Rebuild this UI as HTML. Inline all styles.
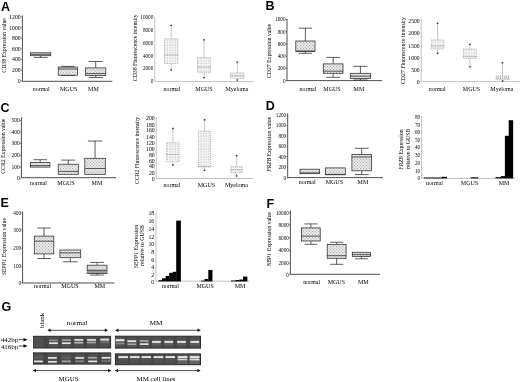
<!DOCTYPE html>
<html><head><meta charset="utf-8"><style>
html,body{margin:0;padding:0;background:#fff;width:520px;height:382px;overflow:hidden}
svg{display:block;filter:grayscale(1) blur(0.3px)}
text{font-family:"Liberation Serif", serif;stroke:none;fill:#000}
</style></head><body>
<svg width="520" height="382" viewBox="0 0 520 382" font-family='"Liberation Serif", serif' fill="#111">
<defs>
<pattern id="dots" x="0" y="0" width="3" height="3" patternUnits="userSpaceOnUse"><rect width="3" height="3" fill="#f0f0f0"/><rect x="0" y="0" width="1.2" height="1.2" fill="#acacac"/><rect x="1.5" y="1.5" width="1.2" height="1.2" fill="#b4b4b4"/></pattern>
<pattern id="dots2" x="0" y="0" width="2.6" height="2.6" patternUnits="userSpaceOnUse"><rect width="2.6" height="2.6" fill="#f8f8f8"/><rect x="0.4" y="0.4" width="1.1" height="1.1" fill="#b4b4b4"/></pattern>
<filter id="bl" x="-20%" y="-50%" width="140%" height="200%"><feGaussianBlur stdDeviation="0.5"/></filter><filter id="bl2" x="-10%" y="-10%" width="120%" height="120%"><feGaussianBlur stdDeviation="0.7"/></filter>
</defs>
<rect width="520" height="382" fill="#fff"/>
<text x="0.9" y="10.8" style='font-family:"Liberation Sans",sans-serif' font-weight="bold" font-size="12.5">A</text>
<line x1="22.4" y1="15.5" x2="22.4" y2="81.3" stroke="#222" stroke-width="0.8"/>
<line x1="22.4" y1="81.3" x2="112.4" y2="81.3" stroke="#222" stroke-width="0.8"/>
<line x1="21.2" y1="17.0" x2="22.4" y2="17.0" stroke="#222" stroke-width="0.6"/>
<text x="20.7" y="18.8" font-size="5.8" text-anchor="end" >1200</text>
<line x1="21.2" y1="27.7" x2="22.4" y2="27.7" stroke="#222" stroke-width="0.6"/>
<text x="20.7" y="29.5" font-size="5.8" text-anchor="end" >1000</text>
<line x1="21.2" y1="38.2" x2="22.4" y2="38.2" stroke="#222" stroke-width="0.6"/>
<text x="20.7" y="40.0" font-size="5.8" text-anchor="end" >800</text>
<line x1="21.2" y1="49.0" x2="22.4" y2="49.0" stroke="#222" stroke-width="0.6"/>
<text x="20.7" y="50.8" font-size="5.8" text-anchor="end" >600</text>
<line x1="21.2" y1="59.5" x2="22.4" y2="59.5" stroke="#222" stroke-width="0.6"/>
<text x="20.7" y="61.3" font-size="5.8" text-anchor="end" >400</text>
<line x1="21.2" y1="70.3" x2="22.4" y2="70.3" stroke="#222" stroke-width="0.6"/>
<text x="20.7" y="72.1" font-size="5.8" text-anchor="end" >200</text>
<line x1="21.2" y1="81.0" x2="22.4" y2="81.0" stroke="#222" stroke-width="0.6"/>
<text x="20.7" y="82.8" font-size="5.8" text-anchor="end" >0</text>
<line x1="40.650000000000006" y1="55.7" x2="40.650000000000006" y2="57.4" stroke="#2a2a2a" stroke-width="0.75"/>
<line x1="33.61500000000001" y1="57.4" x2="47.685" y2="57.4" stroke="#2a2a2a" stroke-width="0.75"/>
<rect x="30.6" y="52.8" width="20.1" height="2.9000000000000057" fill="url(#dots)" stroke="#2a2a2a" stroke-width="0.75"/>
<line x1="30.6" y1="54.3" x2="50.7" y2="54.3" stroke="#2a2a2a" stroke-width="0.75"/>
<line x1="67.85" y1="66.4" x2="67.85" y2="67.1" stroke="#2a2a2a" stroke-width="0.75"/>
<line x1="61.095" y1="66.4" x2="74.60499999999999" y2="66.4" stroke="#2a2a2a" stroke-width="0.75"/>
<line x1="67.85" y1="75.2" x2="67.85" y2="75.6" stroke="#2a2a2a" stroke-width="0.75"/>
<line x1="61.095" y1="75.6" x2="74.60499999999999" y2="75.6" stroke="#2a2a2a" stroke-width="0.75"/>
<rect x="58.2" y="67.1" width="19.299999999999997" height="8.100000000000009" fill="url(#dots)" stroke="#2a2a2a" stroke-width="0.75"/>
<line x1="58.2" y1="69.0" x2="77.5" y2="69.0" stroke="#2a2a2a" stroke-width="0.75"/>
<line x1="95.69999999999999" y1="61.5" x2="95.69999999999999" y2="67.9" stroke="#2a2a2a" stroke-width="0.75"/>
<line x1="88.63" y1="61.5" x2="102.76999999999998" y2="61.5" stroke="#2a2a2a" stroke-width="0.75"/>
<line x1="95.69999999999999" y1="75.4" x2="95.69999999999999" y2="77.5" stroke="#2a2a2a" stroke-width="0.75"/>
<line x1="88.63" y1="77.5" x2="102.76999999999998" y2="77.5" stroke="#2a2a2a" stroke-width="0.75"/>
<rect x="85.6" y="67.9" width="20.200000000000003" height="7.5" fill="url(#dots)" stroke="#2a2a2a" stroke-width="0.75"/>
<line x1="85.6" y1="73.6" x2="105.8" y2="73.6" stroke="#2a2a2a" stroke-width="0.75"/>
<text x="41.2" y="90.9" font-size="6" text-anchor="middle" >normal</text>
<text x="68.7" y="90.9" font-size="6" text-anchor="middle" >MGUS</text>
<text x="93.4" y="90.9" font-size="6" text-anchor="middle" >MM</text>
<text transform="translate(4.0,45.4) rotate(-90)" x="0" y="0" font-size="5.8" text-anchor="middle" dominant-baseline="central" textLength="54.5" lengthAdjust="spacingAndGlyphs" >CD38 Expression value</text>
<line x1="154.8" y1="16.2" x2="154.8" y2="81.6" stroke="#a8a8a8" stroke-width="0.7"/>
<line x1="154.8" y1="81.6" x2="254" y2="81.6" stroke="#a8a8a8" stroke-width="0.7"/>
<text x="153.3" y="19.1" font-size="5.2" text-anchor="end" >10000</text>
<text x="153.3" y="32.1" font-size="5.2" text-anchor="end" >8000</text>
<text x="153.3" y="44.8" font-size="5.2" text-anchor="end" >6000</text>
<text x="153.3" y="57.5" font-size="5.2" text-anchor="end" >4000</text>
<text x="153.3" y="70.3" font-size="5.2" text-anchor="end" >2000</text>
<text x="153.3" y="83.1" font-size="5.2" text-anchor="end" >0</text>
<line x1="171.2" y1="25.4" x2="171.2" y2="38.7" stroke="#a0a0a0" stroke-width="0.6"/>
<rect x="170.39999999999998" y="24.7" width="1.6" height="1.4" fill="#333"/>
<line x1="171.2" y1="63.6" x2="171.2" y2="70.0" stroke="#a0a0a0" stroke-width="0.6"/>
<rect x="170.39999999999998" y="69.3" width="1.6" height="1.4" fill="#333"/>
<rect x="164.5" y="38.7" width="13.400000000000006" height="24.9" fill="url(#dots2)" stroke="#999" stroke-width="0.7" stroke-dasharray="1,1"/>
<line x1="164.5" y1="55.0" x2="177.9" y2="55.0" stroke="#777" stroke-width="0.8" stroke-dasharray="1,1"/>
<line x1="204.05" y1="39.8" x2="204.05" y2="57.5" stroke="#a0a0a0" stroke-width="0.6"/>
<rect x="203.25" y="39.099999999999994" width="1.6" height="1.4" fill="#333"/>
<line x1="204.05" y1="72.7" x2="204.05" y2="77.7" stroke="#a0a0a0" stroke-width="0.6"/>
<rect x="203.25" y="77.0" width="1.6" height="1.4" fill="#333"/>
<rect x="197.5" y="57.5" width="13.099999999999994" height="15.200000000000003" fill="url(#dots2)" stroke="#999" stroke-width="0.7" stroke-dasharray="1,1"/>
<line x1="197.5" y1="67.2" x2="210.6" y2="67.2" stroke="#777" stroke-width="0.8" stroke-dasharray="1,1"/>
<line x1="237.3" y1="62.0" x2="237.3" y2="72.8" stroke="#a0a0a0" stroke-width="0.6"/>
<rect x="236.5" y="61.3" width="1.6" height="1.4" fill="#333"/>
<line x1="237.3" y1="78.4" x2="237.3" y2="80.1" stroke="#a0a0a0" stroke-width="0.6"/>
<rect x="236.5" y="79.39999999999999" width="1.6" height="1.4" fill="#333"/>
<rect x="230.5" y="72.8" width="13.599999999999994" height="5.6000000000000085" fill="url(#dots2)" stroke="#999" stroke-width="0.7" stroke-dasharray="1,1"/>
<line x1="230.5" y1="75.8" x2="244.1" y2="75.8" stroke="#777" stroke-width="0.8" stroke-dasharray="1,1"/>
<text x="171.9" y="90.6" font-size="6" text-anchor="middle" >normal</text>
<text x="204" y="90.6" font-size="6" text-anchor="middle" >MGUS</text>
<text x="236.9" y="90.6" font-size="6" text-anchor="middle" >Myeloma</text>
<text transform="translate(134.9,47.8) rotate(-90)" x="0" y="0" font-size="5.8" text-anchor="middle" dominant-baseline="central" textLength="66.7" lengthAdjust="spacingAndGlyphs" >CD38 Fluorescence intensity</text>
<text x="265.4" y="10.3" style='font-family:"Liberation Sans",sans-serif' font-weight="bold" font-size="12.5">B</text>
<line x1="287" y1="18.8" x2="287" y2="80.6" stroke="#222" stroke-width="0.8"/>
<line x1="287" y1="80.6" x2="382" y2="80.6" stroke="#222" stroke-width="0.8"/>
<line x1="285.8" y1="19.6" x2="287" y2="19.6" stroke="#222" stroke-width="0.6"/>
<text x="285.5" y="21.400000000000002" font-size="5.2" text-anchor="end" >1000</text>
<line x1="285.8" y1="31.8" x2="287" y2="31.8" stroke="#222" stroke-width="0.6"/>
<text x="285.5" y="33.6" font-size="5.2" text-anchor="end" >800</text>
<line x1="285.8" y1="44.0" x2="287" y2="44.0" stroke="#222" stroke-width="0.6"/>
<text x="285.5" y="45.8" font-size="5.2" text-anchor="end" >600</text>
<line x1="285.8" y1="56.2" x2="287" y2="56.2" stroke="#222" stroke-width="0.6"/>
<text x="285.5" y="58.0" font-size="5.2" text-anchor="end" >400</text>
<line x1="285.8" y1="68.5" x2="287" y2="68.5" stroke="#222" stroke-width="0.6"/>
<text x="285.5" y="70.3" font-size="5.2" text-anchor="end" >200</text>
<line x1="285.8" y1="80.7" x2="287" y2="80.7" stroke="#222" stroke-width="0.6"/>
<text x="285.5" y="82.5" font-size="5.2" text-anchor="end" >0</text>
<line x1="305.4" y1="28.2" x2="305.4" y2="41.0" stroke="#2a2a2a" stroke-width="0.75"/>
<line x1="298.68" y1="28.2" x2="312.11999999999995" y2="28.2" stroke="#2a2a2a" stroke-width="0.75"/>
<line x1="305.4" y1="51.6" x2="305.4" y2="53.3" stroke="#2a2a2a" stroke-width="0.75"/>
<line x1="298.68" y1="53.3" x2="312.11999999999995" y2="53.3" stroke="#2a2a2a" stroke-width="0.75"/>
<rect x="295.8" y="41.0" width="19.19999999999999" height="10.600000000000001" fill="url(#dots)" stroke="#2a2a2a" stroke-width="0.75"/>
<line x1="295.8" y1="51.0" x2="315.0" y2="51.0" stroke="#2a2a2a" stroke-width="0.75"/>
<line x1="333.15" y1="57.4" x2="333.15" y2="63.9" stroke="#2a2a2a" stroke-width="0.75"/>
<line x1="326.255" y1="57.4" x2="340.04499999999996" y2="57.4" stroke="#2a2a2a" stroke-width="0.75"/>
<line x1="333.15" y1="73.3" x2="333.15" y2="77.3" stroke="#2a2a2a" stroke-width="0.75"/>
<line x1="326.255" y1="77.3" x2="340.04499999999996" y2="77.3" stroke="#2a2a2a" stroke-width="0.75"/>
<rect x="323.3" y="63.9" width="19.69999999999999" height="9.399999999999999" fill="url(#dots)" stroke="#2a2a2a" stroke-width="0.75"/>
<line x1="323.3" y1="71.2" x2="343.0" y2="71.2" stroke="#2a2a2a" stroke-width="0.75"/>
<line x1="360.4" y1="66.3" x2="360.4" y2="73.3" stroke="#2a2a2a" stroke-width="0.75"/>
<line x1="353.33" y1="66.3" x2="367.46999999999997" y2="66.3" stroke="#2a2a2a" stroke-width="0.75"/>
<line x1="360.4" y1="78.6" x2="360.4" y2="80.0" stroke="#2a2a2a" stroke-width="0.75"/>
<line x1="353.33" y1="80.0" x2="367.46999999999997" y2="80.0" stroke="#2a2a2a" stroke-width="0.75"/>
<rect x="350.3" y="73.3" width="20.19999999999999" height="5.299999999999997" fill="url(#dots)" stroke="#2a2a2a" stroke-width="0.75"/>
<line x1="350.3" y1="76.2" x2="370.5" y2="76.2" stroke="#2a2a2a" stroke-width="0.75"/>
<text x="307.9" y="90.5" font-size="6" text-anchor="middle" >normal</text>
<text x="332" y="90.5" font-size="6" text-anchor="middle" >MGUS</text>
<text x="358.9" y="90.5" font-size="6" text-anchor="middle" >MM</text>
<text transform="translate(268.8,50.9) rotate(-90)" x="0" y="0" font-size="5.8" text-anchor="middle" dominant-baseline="central" textLength="54.3" lengthAdjust="spacingAndGlyphs" >CD27 Expression value</text>
<line x1="421.2" y1="18.3" x2="421.2" y2="81.6" stroke="#a8a8a8" stroke-width="0.7"/>
<line x1="421.2" y1="81.6" x2="520" y2="81.6" stroke="#a8a8a8" stroke-width="0.7"/>
<text x="419.7" y="23.2" font-size="5.7" text-anchor="end" >2500</text>
<text x="419.7" y="35.3" font-size="5.7" text-anchor="end" >2000</text>
<text x="419.7" y="47.599999999999994" font-size="5.7" text-anchor="end" >1500</text>
<text x="419.7" y="59.8" font-size="5.7" text-anchor="end" >1000</text>
<text x="419.7" y="71.8" font-size="5.7" text-anchor="end" >500</text>
<text x="419.7" y="83.7" font-size="5.7" text-anchor="end" >0</text>
<line x1="437.54999999999995" y1="23.4" x2="437.54999999999995" y2="39.9" stroke="#a0a0a0" stroke-width="0.6"/>
<rect x="436.74999999999994" y="22.7" width="1.6" height="1.4" fill="#333"/>
<line x1="437.54999999999995" y1="49.0" x2="437.54999999999995" y2="53.4" stroke="#a0a0a0" stroke-width="0.6"/>
<rect x="436.74999999999994" y="52.699999999999996" width="1.6" height="1.4" fill="#333"/>
<rect x="431.2" y="39.9" width="12.699999999999989" height="9.100000000000001" fill="url(#dots2)" stroke="#999" stroke-width="0.7" stroke-dasharray="1,1"/>
<line x1="431.2" y1="46.0" x2="443.9" y2="46.0" stroke="#777" stroke-width="0.8" stroke-dasharray="1,1"/>
<line x1="469.9" y1="44.4" x2="469.9" y2="49.0" stroke="#a0a0a0" stroke-width="0.6"/>
<rect x="469.09999999999997" y="43.699999999999996" width="1.6" height="1.4" fill="#333"/>
<line x1="469.9" y1="58.4" x2="469.9" y2="66.8" stroke="#a0a0a0" stroke-width="0.6"/>
<rect x="469.09999999999997" y="66.1" width="1.6" height="1.4" fill="#333"/>
<rect x="463.4" y="49.0" width="13.0" height="9.399999999999999" fill="url(#dots2)" stroke="#999" stroke-width="0.7" stroke-dasharray="1,1"/>
<line x1="463.4" y1="56.5" x2="476.4" y2="56.5" stroke="#777" stroke-width="0.8" stroke-dasharray="1,1"/>
<line x1="502.5" y1="62.8" x2="502.5" y2="75.9" stroke="#a0a0a0" stroke-width="0.6"/>
<rect x="501.7" y="62.099999999999994" width="1.6" height="1.4" fill="#333"/>
<line x1="502.5" y1="79.8" x2="502.5" y2="81.0" stroke="#a0a0a0" stroke-width="0.6"/>
<rect x="501.7" y="80.3" width="1.6" height="1.4" fill="#333"/>
<rect x="496" y="75.9" width="13" height="3.8999999999999915" fill="url(#dots2)" stroke="#999" stroke-width="0.7" stroke-dasharray="1,1"/>
<line x1="496" y1="78" x2="509" y2="78" stroke="#777" stroke-width="0.8" stroke-dasharray="1,1"/>
<text x="437.2" y="90.5" font-size="6" text-anchor="middle" >normal</text>
<text x="471.5" y="90.5" font-size="6" text-anchor="middle" >MGUS</text>
<text x="501.8" y="90.5" font-size="6" text-anchor="middle" >Myeloma</text>
<text transform="translate(402.5,50.6) rotate(-90)" x="0" y="0" font-size="5.8" text-anchor="middle" dominant-baseline="central" textLength="66.8" lengthAdjust="spacingAndGlyphs" >CD27 Fluorescence intensity</text>
<text x="0.5" y="112.2" style='font-family:"Liberation Sans",sans-serif' font-weight="bold" font-size="12.5">C</text>
<line x1="21.4" y1="117.3" x2="21.4" y2="177.7" stroke="#222" stroke-width="0.8"/>
<line x1="21.4" y1="177.7" x2="116" y2="177.7" stroke="#222" stroke-width="0.8"/>
<line x1="20.2" y1="120.5" x2="21.4" y2="120.5" stroke="#222" stroke-width="0.6"/>
<text x="19.9" y="122.3" font-size="5.6" text-anchor="end" >500</text>
<line x1="20.2" y1="132.1" x2="21.4" y2="132.1" stroke="#222" stroke-width="0.6"/>
<text x="19.9" y="133.9" font-size="5.6" text-anchor="end" >400</text>
<line x1="20.2" y1="143.6" x2="21.4" y2="143.6" stroke="#222" stroke-width="0.6"/>
<text x="19.9" y="145.4" font-size="5.6" text-anchor="end" >300</text>
<line x1="20.2" y1="155.6" x2="21.4" y2="155.6" stroke="#222" stroke-width="0.6"/>
<text x="19.9" y="157.4" font-size="5.6" text-anchor="end" >200</text>
<line x1="20.2" y1="167.3" x2="21.4" y2="167.3" stroke="#222" stroke-width="0.6"/>
<text x="19.9" y="169.10000000000002" font-size="5.6" text-anchor="end" >100</text>
<line x1="20.2" y1="178.6" x2="21.4" y2="178.6" stroke="#222" stroke-width="0.6"/>
<text x="19.9" y="180.4" font-size="5.6" text-anchor="end" >0</text>
<line x1="40.15" y1="159.7" x2="40.15" y2="162.4" stroke="#2a2a2a" stroke-width="0.75"/>
<line x1="33.325" y1="159.7" x2="46.974999999999994" y2="159.7" stroke="#2a2a2a" stroke-width="0.75"/>
<rect x="30.4" y="162.4" width="19.5" height="4.699999999999989" fill="url(#dots)" stroke="#2a2a2a" stroke-width="0.75"/>
<line x1="30.4" y1="165.6" x2="49.9" y2="165.6" stroke="#2a2a2a" stroke-width="0.75"/>
<line x1="68.25" y1="160.1" x2="68.25" y2="164.2" stroke="#2a2a2a" stroke-width="0.75"/>
<line x1="61.215" y1="160.1" x2="75.285" y2="160.1" stroke="#2a2a2a" stroke-width="0.75"/>
<rect x="58.2" y="164.2" width="20.099999999999994" height="10.100000000000023" fill="url(#dots)" stroke="#2a2a2a" stroke-width="0.75"/>
<line x1="58.2" y1="171.4" x2="78.3" y2="171.4" stroke="#2a2a2a" stroke-width="0.75"/>
<line x1="95.05" y1="141.0" x2="95.05" y2="158.3" stroke="#2a2a2a" stroke-width="0.75"/>
<line x1="87.875" y1="141.0" x2="102.225" y2="141.0" stroke="#2a2a2a" stroke-width="0.75"/>
<rect x="84.8" y="158.3" width="20.5" height="16.0" fill="url(#dots)" stroke="#2a2a2a" stroke-width="0.75"/>
<line x1="84.8" y1="168.5" x2="105.3" y2="168.5" stroke="#2a2a2a" stroke-width="0.75"/>
<text x="38.5" y="185.3" font-size="6" text-anchor="middle" >normal</text>
<text x="66" y="185.3" font-size="6" text-anchor="middle" >MGUS</text>
<text x="96.9" y="185.3" font-size="6" text-anchor="middle" >MM</text>
<text transform="translate(3.3,146.2) rotate(-90)" x="0" y="0" font-size="5.8" text-anchor="middle" dominant-baseline="central" textLength="55.1" lengthAdjust="spacingAndGlyphs" >CCR2 Expression value</text>
<line x1="156.2" y1="117.2" x2="156.2" y2="178.5" stroke="#a8a8a8" stroke-width="0.7"/>
<line x1="156.2" y1="178.5" x2="253" y2="178.5" stroke="#a8a8a8" stroke-width="0.7"/>
<text x="154.7" y="119.8" font-size="5.8" text-anchor="end" >200</text>
<text x="154.7" y="126.5" font-size="5.8" text-anchor="end" >180</text>
<text x="154.7" y="132.4" font-size="5.8" text-anchor="end" >160</text>
<text x="154.7" y="138.70000000000002" font-size="5.8" text-anchor="end" >140</text>
<text x="154.7" y="144.70000000000002" font-size="5.8" text-anchor="end" >120</text>
<text x="154.7" y="150.60000000000002" font-size="5.8" text-anchor="end" >100</text>
<text x="154.7" y="156.5" font-size="5.8" text-anchor="end" >80</text>
<text x="154.7" y="162.60000000000002" font-size="5.8" text-anchor="end" >60</text>
<text x="154.7" y="168.4" font-size="5.8" text-anchor="end" >40</text>
<text x="154.7" y="174.70000000000002" font-size="5.8" text-anchor="end" >20</text>
<text x="154.7" y="181.0" font-size="5.8" text-anchor="end" >0</text>
<line x1="172.89999999999998" y1="128.5" x2="172.89999999999998" y2="142.6" stroke="#a0a0a0" stroke-width="0.6"/>
<rect x="172.09999999999997" y="127.8" width="1.6" height="1.4" fill="#333"/>
<line x1="172.89999999999998" y1="161.7" x2="172.89999999999998" y2="165.1" stroke="#a0a0a0" stroke-width="0.6"/>
<rect x="172.09999999999997" y="164.4" width="1.6" height="1.4" fill="#333"/>
<rect x="166.6" y="142.6" width="12.599999999999994" height="19.099999999999994" fill="url(#dots2)" stroke="#999" stroke-width="0.7" stroke-dasharray="1,1"/>
<line x1="166.6" y1="154.6" x2="179.2" y2="154.6" stroke="#777" stroke-width="0.8" stroke-dasharray="1,1"/>
<line x1="204.55" y1="119.8" x2="204.55" y2="131.1" stroke="#a0a0a0" stroke-width="0.6"/>
<rect x="203.75" y="119.1" width="1.6" height="1.4" fill="#333"/>
<line x1="204.55" y1="167.0" x2="204.55" y2="170.3" stroke="#a0a0a0" stroke-width="0.6"/>
<rect x="203.75" y="169.60000000000002" width="1.6" height="1.4" fill="#333"/>
<rect x="198.5" y="131.1" width="12.099999999999994" height="35.900000000000006" fill="url(#dots2)" stroke="#999" stroke-width="0.7" stroke-dasharray="1,1"/>
<line x1="198.5" y1="166.5" x2="210.6" y2="166.5" stroke="#777" stroke-width="0.8" stroke-dasharray="1,1"/>
<line x1="236.65" y1="155.7" x2="236.65" y2="166.6" stroke="#a0a0a0" stroke-width="0.6"/>
<rect x="235.85" y="155.0" width="1.6" height="1.4" fill="#333"/>
<line x1="236.65" y1="172.5" x2="236.65" y2="176.0" stroke="#a0a0a0" stroke-width="0.6"/>
<rect x="235.85" y="175.3" width="1.6" height="1.4" fill="#333"/>
<rect x="230.9" y="166.6" width="11.5" height="5.900000000000006" fill="url(#dots2)" stroke="#999" stroke-width="0.7" stroke-dasharray="1,1"/>
<line x1="230.9" y1="169.7" x2="242.4" y2="169.7" stroke="#777" stroke-width="0.8" stroke-dasharray="1,1"/>
<text x="171.9" y="186.8" font-size="6" text-anchor="middle" >normal</text>
<text x="206.4" y="186.8" font-size="6" text-anchor="middle" >MGUS</text>
<text x="236.4" y="186.8" font-size="6" text-anchor="middle" >Myeloma</text>
<text transform="translate(137.2,150.4) rotate(-90)" x="0" y="0" font-size="5.8" text-anchor="middle" dominant-baseline="central" textLength="67" lengthAdjust="spacingAndGlyphs" >CCR2 Fluorescence intensity</text>
<text x="265.7" y="110" style='font-family:"Liberation Sans",sans-serif' font-weight="bold" font-size="12.5">D</text>
<line x1="287.7" y1="113.3" x2="287.7" y2="177.6" stroke="#222" stroke-width="0.8"/>
<line x1="287.7" y1="177.6" x2="383" y2="177.6" stroke="#222" stroke-width="0.8"/>
<line x1="286.5" y1="115.1" x2="287.7" y2="115.1" stroke="#222" stroke-width="0.6"/>
<text x="286.2" y="116.89999999999999" font-size="5.2" text-anchor="end" >1200</text>
<line x1="286.5" y1="125.6" x2="287.7" y2="125.6" stroke="#222" stroke-width="0.6"/>
<text x="286.2" y="127.39999999999999" font-size="5.2" text-anchor="end" >1000</text>
<line x1="286.5" y1="136.0" x2="287.7" y2="136.0" stroke="#222" stroke-width="0.6"/>
<text x="286.2" y="137.8" font-size="5.2" text-anchor="end" >800</text>
<line x1="286.5" y1="146.3" x2="287.7" y2="146.3" stroke="#222" stroke-width="0.6"/>
<text x="286.2" y="148.10000000000002" font-size="5.2" text-anchor="end" >600</text>
<line x1="286.5" y1="156.7" x2="287.7" y2="156.7" stroke="#222" stroke-width="0.6"/>
<text x="286.2" y="158.5" font-size="5.2" text-anchor="end" >400</text>
<line x1="286.5" y1="166.9" x2="287.7" y2="166.9" stroke="#222" stroke-width="0.6"/>
<text x="286.2" y="168.70000000000002" font-size="5.2" text-anchor="end" >200</text>
<line x1="286.5" y1="178.2" x2="287.7" y2="178.2" stroke="#222" stroke-width="0.6"/>
<text x="286.2" y="180.0" font-size="5.2" text-anchor="end" >0</text>
<rect x="300" y="169.2" width="19.600000000000023" height="4.5" fill="url(#dots)" stroke="#2a2a2a" stroke-width="0.75"/>
<line x1="300" y1="172.9" x2="319.6" y2="172.9" stroke="#2a2a2a" stroke-width="0.75"/>
<rect x="325.6" y="167.9" width="19.69999999999999" height="6.900000000000006" fill="url(#dots)" stroke="#2a2a2a" stroke-width="0.75"/>
<line x1="325.6" y1="174.4" x2="345.3" y2="174.4" stroke="#2a2a2a" stroke-width="0.75"/>
<line x1="361.7" y1="148.3" x2="361.7" y2="154.4" stroke="#2a2a2a" stroke-width="0.75"/>
<line x1="354.84" y1="148.3" x2="368.56" y2="148.3" stroke="#2a2a2a" stroke-width="0.75"/>
<line x1="361.7" y1="170.8" x2="361.7" y2="174.6" stroke="#2a2a2a" stroke-width="0.75"/>
<line x1="354.84" y1="174.6" x2="368.56" y2="174.6" stroke="#2a2a2a" stroke-width="0.75"/>
<rect x="351.9" y="154.4" width="19.600000000000023" height="16.400000000000006" fill="url(#dots)" stroke="#2a2a2a" stroke-width="0.75"/>
<line x1="351.9" y1="157.0" x2="371.5" y2="157.0" stroke="#2a2a2a" stroke-width="0.75"/>
<text x="307.2" y="183.9" font-size="6" text-anchor="middle" >normal</text>
<text x="334.3" y="183.9" font-size="6" text-anchor="middle" >MGUS</text>
<text x="362.9" y="183.9" font-size="6" text-anchor="middle" >MM</text>
<text transform="translate(268.6,144.3) rotate(-90)" x="0" y="0" font-size="5.8" text-anchor="middle" dominant-baseline="central" textLength="55" lengthAdjust="spacingAndGlyphs" ><tspan font-style="italic">FRZB</tspan> Expression value</text>
<line x1="421.6" y1="116" x2="421.6" y2="178.4" stroke="#a8a8a8" stroke-width="0.7"/>
<line x1="421.6" y1="178.4" x2="515" y2="178.4" stroke="#a8a8a8" stroke-width="0.7"/>
<text x="420.1" y="119.0" font-size="5.2" text-anchor="end" >80</text>
<text x="420.1" y="126.8" font-size="5.2" text-anchor="end" >70</text>
<text x="420.1" y="134.20000000000002" font-size="5.2" text-anchor="end" >60</text>
<text x="420.1" y="141.8" font-size="5.2" text-anchor="end" >50</text>
<text x="420.1" y="149.10000000000002" font-size="5.2" text-anchor="end" >40</text>
<text x="420.1" y="157.0" font-size="5.2" text-anchor="end" >30</text>
<text x="420.1" y="164.8" font-size="5.2" text-anchor="end" >20</text>
<text x="420.1" y="172.70000000000002" font-size="5.2" text-anchor="end" >10</text>
<text x="420.1" y="180.0" font-size="5.2" text-anchor="end" >0</text>
<rect x="423.8" y="177.5" width="18.449999999999967" height="0.9000000000000057" fill="#000"/>
<rect x="441.9" y="176.8" width="5.150000000000011" height="1.5999999999999943" fill="#000"/>
<rect x="470.7" y="177.3" width="7.549999999999988" height="1.0999999999999943" fill="#000"/>
<rect x="495.5" y="177.2" width="5.650000000000011" height="1.200000000000017" fill="#000"/>
<rect x="500.8" y="176.1" width="4.4499999999999655" height="2.3000000000000114" fill="#000"/>
<rect x="504.9" y="135.8" width="4.150000000000011" height="42.599999999999994" fill="#000"/>
<rect x="508.7" y="120.2" width="4.4499999999999655" height="58.2" fill="#000"/>
<text x="434.5" y="185.3" font-size="6" text-anchor="middle" >normal</text>
<text x="469.5" y="185.3" font-size="6" text-anchor="middle" >MGUS</text>
<text x="504.1" y="185.3" font-size="6" text-anchor="middle" >MM</text>
<text transform="translate(401.3,149.6) rotate(-90)" x="0" y="0" font-size="5.8" text-anchor="middle" dominant-baseline="central" textLength="40.4" lengthAdjust="spacingAndGlyphs" ><tspan font-style="italic">FRZB</tspan> Expression</text>
<text transform="translate(407.6,148.9) rotate(-90)" x="0" y="0" font-size="5.8" text-anchor="middle" dominant-baseline="central" textLength="40.3" lengthAdjust="spacingAndGlyphs" >relative to GUSB</text>
<text x="0.5" y="207.4" style='font-family:"Liberation Sans",sans-serif' font-weight="bold" font-size="12.5">E</text>
<line x1="22.6" y1="211.5" x2="22.6" y2="283.0" stroke="#222" stroke-width="0.8"/>
<line x1="22.6" y1="283.0" x2="114.5" y2="283.0" stroke="#222" stroke-width="0.8"/>
<line x1="21.400000000000002" y1="212.8" x2="22.6" y2="212.8" stroke="#222" stroke-width="0.6"/>
<text x="21.1" y="214.60000000000002" font-size="5.2" text-anchor="end" >400</text>
<line x1="21.400000000000002" y1="229.9" x2="22.6" y2="229.9" stroke="#222" stroke-width="0.6"/>
<text x="21.1" y="231.70000000000002" font-size="5.2" text-anchor="end" >300</text>
<line x1="21.400000000000002" y1="248.3" x2="22.6" y2="248.3" stroke="#222" stroke-width="0.6"/>
<text x="21.1" y="250.10000000000002" font-size="5.2" text-anchor="end" >200</text>
<line x1="21.400000000000002" y1="266.6" x2="22.6" y2="266.6" stroke="#222" stroke-width="0.6"/>
<text x="21.1" y="268.40000000000003" font-size="5.2" text-anchor="end" >100</text>
<line x1="21.400000000000002" y1="282.8" x2="22.6" y2="282.8" stroke="#222" stroke-width="0.6"/>
<text x="21.1" y="284.6" font-size="5.2" text-anchor="end" >0</text>
<line x1="44.05" y1="228.0" x2="44.05" y2="236.1" stroke="#2a2a2a" stroke-width="0.75"/>
<line x1="37.224999999999994" y1="228.0" x2="50.875" y2="228.0" stroke="#2a2a2a" stroke-width="0.75"/>
<line x1="44.05" y1="253.9" x2="44.05" y2="258.5" stroke="#2a2a2a" stroke-width="0.75"/>
<line x1="37.224999999999994" y1="258.5" x2="50.875" y2="258.5" stroke="#2a2a2a" stroke-width="0.75"/>
<rect x="34.3" y="236.1" width="19.5" height="17.80000000000001" fill="url(#dots)" stroke="#2a2a2a" stroke-width="0.75"/>
<line x1="34.3" y1="241.2" x2="53.8" y2="241.2" stroke="#2a2a2a" stroke-width="0.75"/>
<line x1="70.3" y1="257.7" x2="70.3" y2="261.8" stroke="#2a2a2a" stroke-width="0.75"/>
<line x1="63.019999999999996" y1="261.8" x2="77.58" y2="261.8" stroke="#2a2a2a" stroke-width="0.75"/>
<rect x="59.9" y="250.0" width="20.800000000000004" height="7.699999999999989" fill="url(#dots)" stroke="#2a2a2a" stroke-width="0.75"/>
<line x1="59.9" y1="252.9" x2="80.7" y2="252.9" stroke="#2a2a2a" stroke-width="0.75"/>
<line x1="97.1" y1="262.4" x2="97.1" y2="265.2" stroke="#2a2a2a" stroke-width="0.75"/>
<line x1="90.17" y1="262.4" x2="104.02999999999999" y2="262.4" stroke="#2a2a2a" stroke-width="0.75"/>
<line x1="97.1" y1="273.4" x2="97.1" y2="275.0" stroke="#2a2a2a" stroke-width="0.75"/>
<line x1="90.17" y1="275.0" x2="104.02999999999999" y2="275.0" stroke="#2a2a2a" stroke-width="0.75"/>
<rect x="87.2" y="265.2" width="19.799999999999997" height="8.199999999999989" fill="url(#dots)" stroke="#2a2a2a" stroke-width="0.75"/>
<rect x="87.60000000000001" y="270.2" width="18.999999999999996" height="2.7999999999999887" fill="#9a9a9a"/>
<line x1="87.2" y1="270.2" x2="107.0" y2="270.2" stroke="#2a2a2a" stroke-width="0.75"/>
<text x="42.6" y="288.0" font-size="6" text-anchor="middle" >normal</text>
<text x="69.9" y="288.0" font-size="6" text-anchor="middle" >MGUS</text>
<text x="99.8" y="288.0" font-size="6" text-anchor="middle" >MM</text>
<text transform="translate(3.8,246.5) rotate(-90)" x="0" y="0" font-size="5.8" text-anchor="middle" dominant-baseline="central" textLength="57" lengthAdjust="spacingAndGlyphs" ><tspan font-style="italic">SEPP1</tspan> Expression value</text>
<line x1="156" y1="212.2" x2="156" y2="281.2" stroke="#a8a8a8" stroke-width="0.7"/>
<line x1="156" y1="281.2" x2="250" y2="281.2" stroke="#a8a8a8" stroke-width="0.7"/>
<text x="154.2" y="215.20000000000002" font-size="5.8" text-anchor="end" >18</text>
<text x="154.2" y="223.10000000000002" font-size="5.8" text-anchor="end" >16</text>
<text x="154.2" y="230.8" font-size="5.8" text-anchor="end" >14</text>
<text x="154.2" y="238.8" font-size="5.8" text-anchor="end" >12</text>
<text x="154.2" y="246.0" font-size="5.8" text-anchor="end" >10</text>
<text x="154.2" y="253.70000000000002" font-size="5.8" text-anchor="end" >8</text>
<text x="154.2" y="261.6" font-size="5.8" text-anchor="end" >6</text>
<text x="154.2" y="268.8" font-size="5.8" text-anchor="end" >4</text>
<text x="154.2" y="276.5" font-size="5.8" text-anchor="end" >2</text>
<text x="154.2" y="283.7" font-size="5.8" text-anchor="end" >0</text>
<rect x="158.4" y="280.2" width="3.9499999999999944" height="1.1999999999999886" fill="#000"/>
<rect x="162" y="278.3" width="3.9499999999999944" height="3.099999999999966" fill="#000"/>
<rect x="165.6" y="275.9" width="3.9499999999999944" height="5.5" fill="#000"/>
<rect x="169.2" y="272.8" width="3.950000000000023" height="8.599999999999966" fill="#000"/>
<rect x="172.8" y="271.8" width="3.7499999999999774" height="9.599999999999966" fill="#000"/>
<rect x="176.2" y="220.6" width="4.650000000000011" height="60.79999999999998" fill="#000"/>
<rect x="200.9" y="280.6" width="3.9499999999999944" height="0.7999999999999545" fill="#000"/>
<rect x="204.5" y="279.0" width="3.9499999999999944" height="2.3999999999999773" fill="#000"/>
<rect x="208.3" y="270.0" width="4.149999999999983" height="11.399999999999977" fill="#000"/>
<rect x="231" y="280.5" width="5.150000000000011" height="0.8999999999999773" fill="#000"/>
<rect x="235.8" y="280.0" width="3.9499999999999944" height="1.3999999999999773" fill="#000"/>
<rect x="239.4" y="279.5" width="3.9499999999999944" height="1.8999999999999773" fill="#000"/>
<rect x="243" y="276.6" width="4.35" height="4.7999999999999545" fill="#000"/>
<text x="170.4" y="287.6" font-size="6" text-anchor="middle" >normal</text>
<text x="205.1" y="287.6" font-size="6" text-anchor="middle" >MGUS</text>
<text x="240" y="287.6" font-size="6" text-anchor="middle" >MM</text>
<text transform="translate(136.2,246.5) rotate(-90)" x="0" y="0" font-size="5.8" text-anchor="middle" dominant-baseline="central" textLength="43" lengthAdjust="spacingAndGlyphs" ><tspan font-style="italic">SEPP1</tspan> Expression</text>
<text transform="translate(142.2,245.6) rotate(-90)" x="0" y="0" font-size="5.8" text-anchor="middle" dominant-baseline="central" textLength="41" lengthAdjust="spacingAndGlyphs" >relative to GUSB</text>
<text x="266.4" y="207.8" style='font-family:"Liberation Sans",sans-serif' font-weight="bold" font-size="12.5">F</text>
<line x1="290.4" y1="210.4" x2="290.4" y2="274.3" stroke="#222" stroke-width="0.8"/>
<line x1="290.4" y1="274.3" x2="380.0" y2="274.3" stroke="#222" stroke-width="0.8"/>
<line x1="289.2" y1="212.8" x2="290.4" y2="212.8" stroke="#222" stroke-width="0.6"/>
<text x="288.9" y="214.60000000000002" font-size="5.2" text-anchor="end" >10000</text>
<line x1="289.2" y1="225.0" x2="290.4" y2="225.0" stroke="#222" stroke-width="0.6"/>
<text x="288.9" y="226.8" font-size="5.2" text-anchor="end" >8000</text>
<line x1="289.2" y1="237.9" x2="290.4" y2="237.9" stroke="#222" stroke-width="0.6"/>
<text x="288.9" y="239.70000000000002" font-size="5.2" text-anchor="end" >6000</text>
<line x1="289.2" y1="250.6" x2="290.4" y2="250.6" stroke="#222" stroke-width="0.6"/>
<text x="288.9" y="252.4" font-size="5.2" text-anchor="end" >4000</text>
<line x1="289.2" y1="263.2" x2="290.4" y2="263.2" stroke="#222" stroke-width="0.6"/>
<text x="288.9" y="265.0" font-size="5.2" text-anchor="end" >2000</text>
<line x1="289.2" y1="274.8" x2="290.4" y2="274.8" stroke="#222" stroke-width="0.6"/>
<text x="288.9" y="276.6" font-size="5.2" text-anchor="end" >0</text>
<line x1="310.9" y1="223.9" x2="310.9" y2="227.9" stroke="#2a2a2a" stroke-width="0.75"/>
<line x1="304.39" y1="223.9" x2="317.40999999999997" y2="223.9" stroke="#2a2a2a" stroke-width="0.75"/>
<line x1="310.9" y1="241.0" x2="310.9" y2="244.3" stroke="#2a2a2a" stroke-width="0.75"/>
<line x1="304.39" y1="244.3" x2="317.40999999999997" y2="244.3" stroke="#2a2a2a" stroke-width="0.75"/>
<rect x="301.6" y="227.9" width="18.599999999999966" height="13.099999999999994" fill="url(#dots)" stroke="#2a2a2a" stroke-width="0.75"/>
<line x1="301.6" y1="236.1" x2="320.2" y2="236.1" stroke="#2a2a2a" stroke-width="0.75"/>
<line x1="336.65" y1="242.3" x2="336.65" y2="244.6" stroke="#2a2a2a" stroke-width="0.75"/>
<line x1="330.03499999999997" y1="242.3" x2="343.265" y2="242.3" stroke="#2a2a2a" stroke-width="0.75"/>
<line x1="336.65" y1="258.3" x2="336.65" y2="264.3" stroke="#2a2a2a" stroke-width="0.75"/>
<line x1="330.03499999999997" y1="264.3" x2="343.265" y2="264.3" stroke="#2a2a2a" stroke-width="0.75"/>
<rect x="327.2" y="244.6" width="18.900000000000034" height="13.700000000000017" fill="url(#dots)" stroke="#2a2a2a" stroke-width="0.75"/>
<line x1="327.2" y1="255.7" x2="346.1" y2="255.7" stroke="#2a2a2a" stroke-width="0.75"/>
<line x1="361.45000000000005" y1="256.6" x2="361.45000000000005" y2="258.8" stroke="#2a2a2a" stroke-width="0.75"/>
<line x1="355.045" y1="258.8" x2="367.8550000000001" y2="258.8" stroke="#2a2a2a" stroke-width="0.75"/>
<rect x="352.3" y="252.3" width="18.30000000000001" height="4.300000000000011" fill="url(#dots)" stroke="#2a2a2a" stroke-width="0.75"/>
<line x1="352.3" y1="254.6" x2="370.6" y2="254.6" stroke="#2a2a2a" stroke-width="0.75"/>
<text x="311.7" y="283.7" font-size="6" text-anchor="middle" >normal</text>
<text x="336.3" y="283.7" font-size="6" text-anchor="middle" >MGUS</text>
<text x="363.3" y="283.7" font-size="6" text-anchor="middle" >MM</text>
<text transform="translate(268.9,239.2) rotate(-90)" x="0" y="0" font-size="5.8" text-anchor="middle" dominant-baseline="central" textLength="54.6" lengthAdjust="spacingAndGlyphs" ><tspan font-style="italic">NBP1</tspan> Expression value</text>
<text x="1.6" y="311.4" style='font-family:"Liberation Sans",sans-serif' font-weight="bold" font-size="12.5">G</text>
<text transform="translate(41.6,320.4) rotate(-90)" x="0" y="0" font-size="7.0" text-anchor="middle" dominant-baseline="central" textLength="15.4" lengthAdjust="spacingAndGlyphs" >blank</text>
<text x="77.1" y="324.6" font-size="7" text-anchor="middle" textLength="20.6" lengthAdjust="spacingAndGlyphs" >normal</text>
<text x="156" y="324.6" font-size="7" text-anchor="middle" textLength="13" lengthAdjust="spacingAndGlyphs" >MM</text>
<line x1="49.4" y1="330.3" x2="106" y2="330.3" stroke="#222" stroke-width="0.8"/>
<path d="M47.4,330.3 l3.2,-1.7 v3.4z M108,330.3 l-3.2,-1.7 v3.4z" fill="#111"/>
<line x1="117.2" y1="330.3" x2="198.8" y2="330.3" stroke="#222" stroke-width="0.8"/>
<path d="M115.2,330.3 l3.2,-1.7 v3.4z M200.8,330.3 l-3.2,-1.7 v3.4z" fill="#111"/>
<line x1="34.8" y1="370.6" x2="109.3" y2="370.6" stroke="#222" stroke-width="0.8"/>
<path d="M32.8,370.6 l3.2,-1.7 v3.4z M111.3,370.6 l-3.2,-1.7 v3.4z" fill="#111"/>
<line x1="116.8" y1="370.6" x2="198.6" y2="370.6" stroke="#222" stroke-width="0.8"/>
<path d="M114.8,370.6 l3.2,-1.7 v3.4z M200.6,370.6 l-3.2,-1.7 v3.4z" fill="#111"/>
<text x="68.5" y="380.6" font-size="7" text-anchor="middle" textLength="20" lengthAdjust="spacingAndGlyphs" >MGUS</text>
<text x="156" y="380.6" font-size="7" text-anchor="middle" textLength="38.8" lengthAdjust="spacingAndGlyphs" >MM cell lines</text>
<text x="0.9" y="342.2" font-size="6.9" text-anchor="start" textLength="17.4" lengthAdjust="spacingAndGlyphs" >442bp</text>
<text x="0.9" y="348.5" font-size="6.9" text-anchor="start" textLength="17.4" lengthAdjust="spacingAndGlyphs" >416bp</text>
<line x1="18.6" y1="339.7" x2="24.5" y2="339.7" stroke="#222" stroke-width="0.8"/>
<path d="M27.7,339.7 l-4.2,-1.7 v3.4z" fill="#111"/>
<line x1="18.6" y1="346.0" x2="24.5" y2="346.0" stroke="#222" stroke-width="0.8"/>
<path d="M27.7,346.0 l-4.2,-1.7 v3.4z" fill="#111"/>
<rect x="33.5" y="336.3" width="77.1" height="11.699999999999989" fill="#454545" stroke="#2c2c2c" stroke-width="1"/>
<rect x="33.5" y="352.9" width="77.1" height="11.200000000000045" fill="#454545" stroke="#2c2c2c" stroke-width="1"/>
<rect x="115.4" y="336.2" width="85.1" height="11.900000000000034" fill="#454545" stroke="#2c2c2c" stroke-width="1"/>
<rect x="115.4" y="353.9" width="85.1" height="10.800000000000011" fill="#454545" stroke="#2c2c2c" stroke-width="1"/>
<g filter="url(#bl2)">
<rect x="33.5" y="337" width="10" height="10.300000000000011" fill="#4f4f4f"/>
<rect x="48.5" y="337" width="10" height="10.300000000000011" fill="#4f4f4f"/>
<rect x="61.3" y="337" width="10" height="10.300000000000011" fill="#4f4f4f"/>
<rect x="73.8" y="337" width="10" height="10.300000000000011" fill="#4f4f4f"/>
<rect x="86.5" y="337" width="10" height="10.300000000000011" fill="#4f4f4f"/>
<rect x="99.7" y="337" width="10" height="10.300000000000011" fill="#4f4f4f"/>
<rect x="33.5" y="353.6" width="10" height="9.799999999999955" fill="#4f4f4f"/>
<rect x="47.4" y="353.6" width="10" height="9.799999999999955" fill="#4f4f4f"/>
<rect x="61.3" y="353.6" width="10" height="9.799999999999955" fill="#4f4f4f"/>
<rect x="74.7" y="353.6" width="10" height="9.799999999999955" fill="#4f4f4f"/>
<rect x="87.6" y="353.6" width="10" height="9.799999999999955" fill="#4f4f4f"/>
<rect x="101.2" y="353.6" width="10" height="9.799999999999955" fill="#4f4f4f"/>
<rect x="115.0" y="337" width="10" height="10.399999999999977" fill="#4f4f4f"/>
<rect x="126.80000000000001" y="337" width="10" height="10.399999999999977" fill="#4f4f4f"/>
<rect x="139.2" y="337" width="10" height="10.399999999999977" fill="#4f4f4f"/>
<rect x="151.5" y="337" width="10" height="10.399999999999977" fill="#4f4f4f"/>
<rect x="163.7" y="337" width="10" height="10.399999999999977" fill="#4f4f4f"/>
<rect x="176.5" y="337" width="10" height="10.399999999999977" fill="#4f4f4f"/>
<rect x="189.8" y="337" width="10" height="10.399999999999977" fill="#4f4f4f"/>
<rect x="118.2" y="354.6" width="10" height="9.399999999999977" fill="#4f4f4f"/>
<rect x="129.7" y="354.6" width="10" height="9.399999999999977" fill="#4f4f4f"/>
<rect x="141.3" y="354.6" width="10" height="9.399999999999977" fill="#4f4f4f"/>
<rect x="153.4" y="354.6" width="10" height="9.399999999999977" fill="#4f4f4f"/>
<rect x="165.3" y="354.6" width="10" height="9.399999999999977" fill="#4f4f4f"/>
<rect x="177.5" y="354.6" width="10" height="9.399999999999977" fill="#5e5e5e"/>
<rect x="189.6" y="354.6" width="10" height="9.399999999999977" fill="#666"/>
</g>
<g filter="url(#bl)">
<rect x="49.1" y="339.54999999999995" width="8.8" height="1.7" fill="#8c8c8c"/>
<rect x="49.1" y="342.34999999999997" width="8.8" height="1.7" fill="#e2e2e2"/>
<rect x="61.9" y="339.34999999999997" width="8.8" height="1.7" fill="#a4a4a4"/>
<rect x="61.9" y="342.34999999999997" width="8.8" height="1.7" fill="#e2e2e2"/>
<rect x="74.39999999999999" y="339.04999999999995" width="8.8" height="1.7" fill="#e2e2e2"/>
<rect x="74.39999999999999" y="341.84999999999997" width="8.8" height="1.7" fill="#b8b8b8"/>
<rect x="87.1" y="339.04999999999995" width="8.8" height="1.7" fill="#e2e2e2"/>
<rect x="87.1" y="341.65" width="8.8" height="1.7" fill="#a8a8a8"/>
<rect x="100.3" y="338.6" width="8.8" height="2.0" fill="#e2e2e2"/>
<rect x="100.3" y="341.2" width="8.8" height="2" fill="#707070"/>
<rect x="34.1" y="356.34999999999997" width="8.8" height="1.7" fill="#5c5c5c"/>
<rect x="34.1" y="360.54999999999995" width="8.8" height="1.7" fill="#e2e2e2"/>
<rect x="48.0" y="357.04999999999995" width="8.8" height="1.7" fill="#e2e2e2"/>
<rect x="48.0" y="360.95" width="8.8" height="1.7" fill="#e2e2e2"/>
<rect x="61.9" y="356.84999999999997" width="8.8" height="1.7" fill="#666"/>
<rect x="61.9" y="360.54999999999995" width="8.8" height="1.7" fill="#a0a0a0"/>
<rect x="75.3" y="357.04999999999995" width="8.8" height="1.7" fill="#e2e2e2"/>
<rect x="75.3" y="360.34999999999997" width="8.8" height="1.7" fill="#808080"/>
<rect x="88.19999999999999" y="356.84999999999997" width="8.8" height="1.7" fill="#a8a8a8"/>
<rect x="88.19999999999999" y="360.54999999999995" width="8.8" height="1.7" fill="#e2e2e2"/>
<rect x="101.8" y="356.95" width="8.8" height="1.7" fill="#e2e2e2"/>
<rect x="101.8" y="360.15" width="8.8" height="1.7" fill="#707070"/>
<rect x="115.6" y="339.09999999999997" width="8.8" height="2.2" fill="#e2e2e2"/>
<rect x="115.6" y="342.65" width="8.8" height="1.7" fill="#8a8a8a"/>
<rect x="127.4" y="340.25" width="8.8" height="1.9" fill="#e2e2e2"/>
<rect x="127.4" y="343.45" width="8.8" height="1.7" fill="#a8a8a8"/>
<rect x="139.79999999999998" y="340.15" width="8.8" height="1.7" fill="#a8a8a8"/>
<rect x="139.79999999999998" y="343.25" width="8.8" height="1.7" fill="#e2e2e2"/>
<rect x="152.1" y="340.9" width="8.8" height="2.0" fill="#e2e2e2"/>
<rect x="152.1" y="343.2" width="8.8" height="1.6" fill="#666"/>
<rect x="164.29999999999998" y="340.9" width="8.8" height="2.0" fill="#e2e2e2"/>
<rect x="164.29999999999998" y="343.2" width="8.8" height="1.6" fill="#666"/>
<rect x="177.1" y="340.9" width="8.8" height="2.0" fill="#e2e2e2"/>
<rect x="177.1" y="343.2" width="8.8" height="1.6" fill="#666"/>
<rect x="190.4" y="340.9" width="8.8" height="2.0" fill="#e2e2e2"/>
<rect x="190.4" y="343.2" width="8.8" height="1.6" fill="#666"/>
<rect x="118.4" y="356.1" width="9.6" height="2.0" fill="#e2e2e2"/>
<rect x="129.89999999999998" y="356.1" width="9.6" height="2.0" fill="#e2e2e2"/>
<rect x="141.5" y="356.1" width="9.6" height="2.0" fill="#e2e2e2"/>
<rect x="153.6" y="356.1" width="9.6" height="2.0" fill="#e2e2e2"/>
<rect x="165.5" y="356.1" width="9.6" height="2.0" fill="#e2e2e2"/>
<rect x="177.6" y="356.1" width="9.8" height="2.0" fill="#e2e2e2"/>
<rect x="177.6" y="358.7" width="9.8" height="1.6" fill="#cfcfcf"/>
<rect x="189.7" y="356.1" width="9.8" height="2.0" fill="#e2e2e2"/>
<rect x="189.7" y="358.6" width="9.8" height="1.8" fill="#d8d8d8"/>
</g>
</svg>
</body></html>
